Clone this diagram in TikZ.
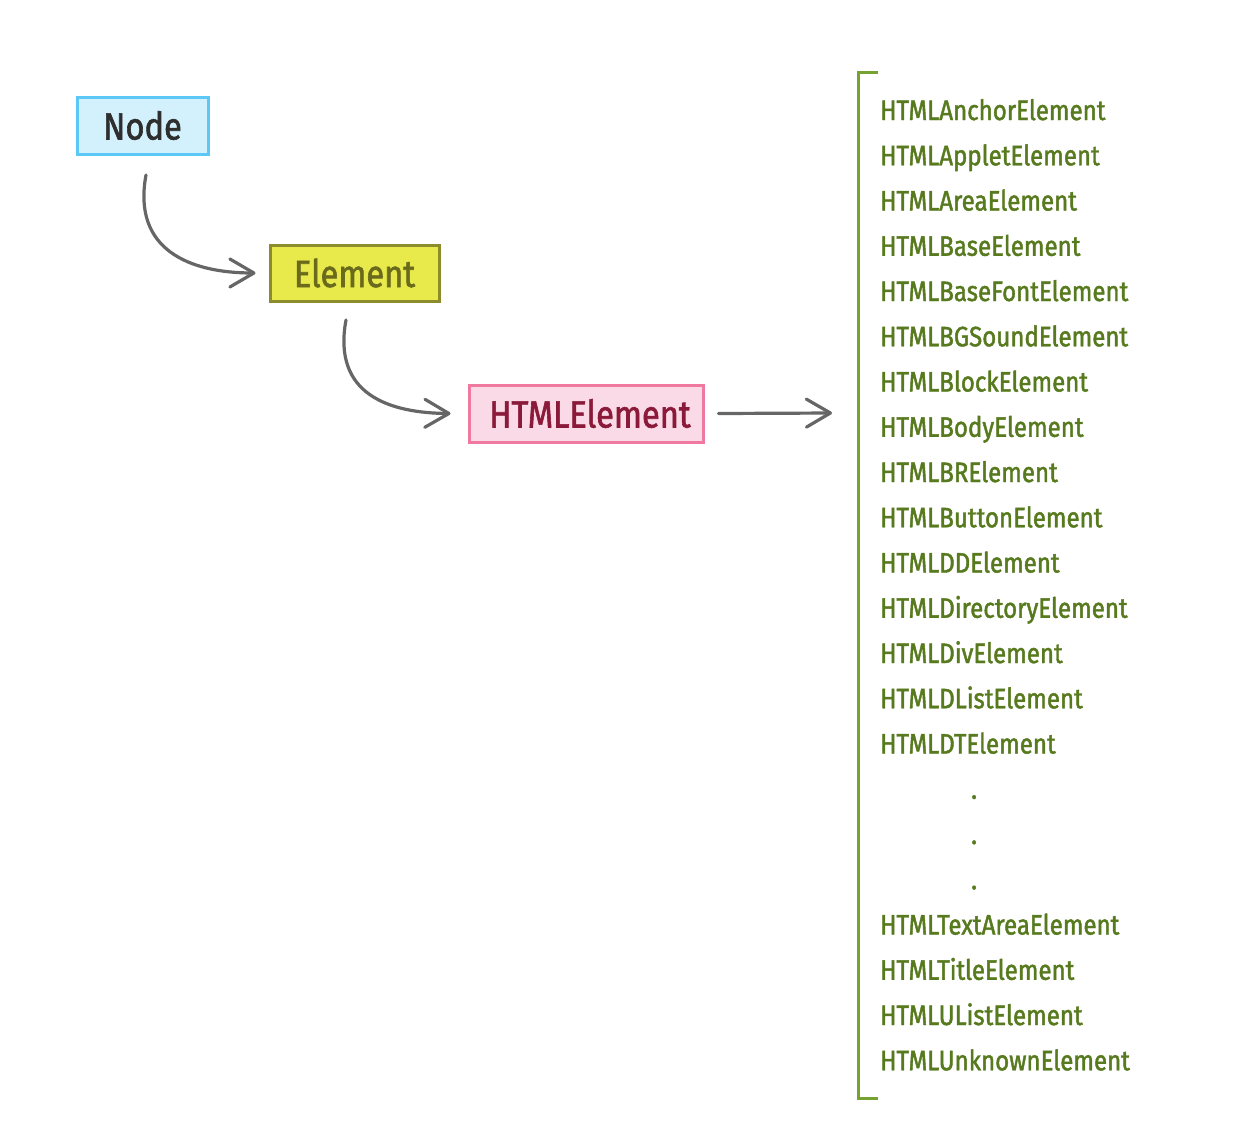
\documentclass[tikz,border=0pt]{standalone}
\usepackage{fontspec}
\setmainfont{Fira Sans}[FakeStretch=0.86,FakeBold=1.6]
\usetikzlibrary{arrows.meta}
\definecolor{nodefill}{HTML}{D3F1FC}
\definecolor{nodeline}{HTML}{5CC8F5}
\definecolor{nodetext}{HTML}{2E2E2E}
\definecolor{elfill}{HTML}{E8EA4C}
\definecolor{elline}{HTML}{8C8C2C}
\definecolor{eltext}{HTML}{6A6A1C}
\definecolor{htfill}{HTML}{FADAE6}
\definecolor{htline}{HTML}{F07A9F}
\definecolor{httext}{HTML}{8B1A3A}
\definecolor{listtext}{HTML}{587A1E}
\definecolor{brack}{HTML}{76A232}
\definecolor{arrowgray}{HTML}{666666}
\tikzset{
  box/.style={draw, line width=3pt, inner sep=0pt, font=\fontsize{38}{44}\selectfont},
  conn/.style={draw=arrowgray, line width=3.2pt, line cap=round,
    -{Straight Barb[length=24pt,width=28pt,line width=3.2pt,round]}},
  item/.style={anchor=base west, inner sep=0pt, text=listtext, font=\fontsize{28}{34}\selectfont},
}
\begin{document}
\begin{tikzpicture}[x=1pt,y=-1pt]
\useasboundingbox (0,0) rectangle (1258,1136);
\node[box, fill=nodefill, draw=nodeline, text=nodetext, minimum width=131pt, minimum height=57pt] (node) at (142.5,125.5) {Node};
\node[box, fill=elfill, draw=elline, text=eltext, minimum width=169pt, minimum height=56pt] (elem) at (354.5,273) {Element};
\node[box, fill=htfill, draw=htline, text=httext, minimum width=234pt, minimum height=57pt] (html) at (586,413.5) {\hspace{8pt}HTMLElement};
\coordinate (s1) at (146,175);
\coordinate (s2) at (346,320);
\draw[conn] (s1) .. controls (132,250) and (190,273) .. ([xshift=-13pt]elem.west);
\draw[conn] (s2) .. controls (332,395) and (390,413) .. ([xshift=-17pt]html.west);
\coordinate (e3) at (832,413);
\draw[conn] ([xshift=14pt]html.east) -- (e3);
\draw[brack, line width=3pt] (878,72) coordinate (bt) -- (858,72) -- (858,1098) -- (878,1098) coordinate (bb);
\foreach \t [count=\i from 0] in {HTMLAnchorElement,HTMLAppletElement,HTMLAreaElement,HTMLBaseElement,HTMLBaseFontElement,HTMLBGSoundElement,HTMLBlockElement,HTMLBodyElement,HTMLBRElement,HTMLButtonElement,HTMLDDElement,HTMLDirectoryElement,HTMLDivElement,HTMLDListElement,HTMLDTElement}
  \node[item] (l\i) at (880,120+\i*45.25) {\t};
\foreach \i in {15,16,17}
  \node[item] (l\i) at (971,120+\i*45.25) {.};
\foreach \t [count=\i from 18] in {HTMLTextAreaElement,HTMLTitleElement,HTMLUListElement,HTMLUnknownElement}
  \node[item] (l\i) at (880,120+\i*45.25) {\t};
\end{tikzpicture}
\end{document}
